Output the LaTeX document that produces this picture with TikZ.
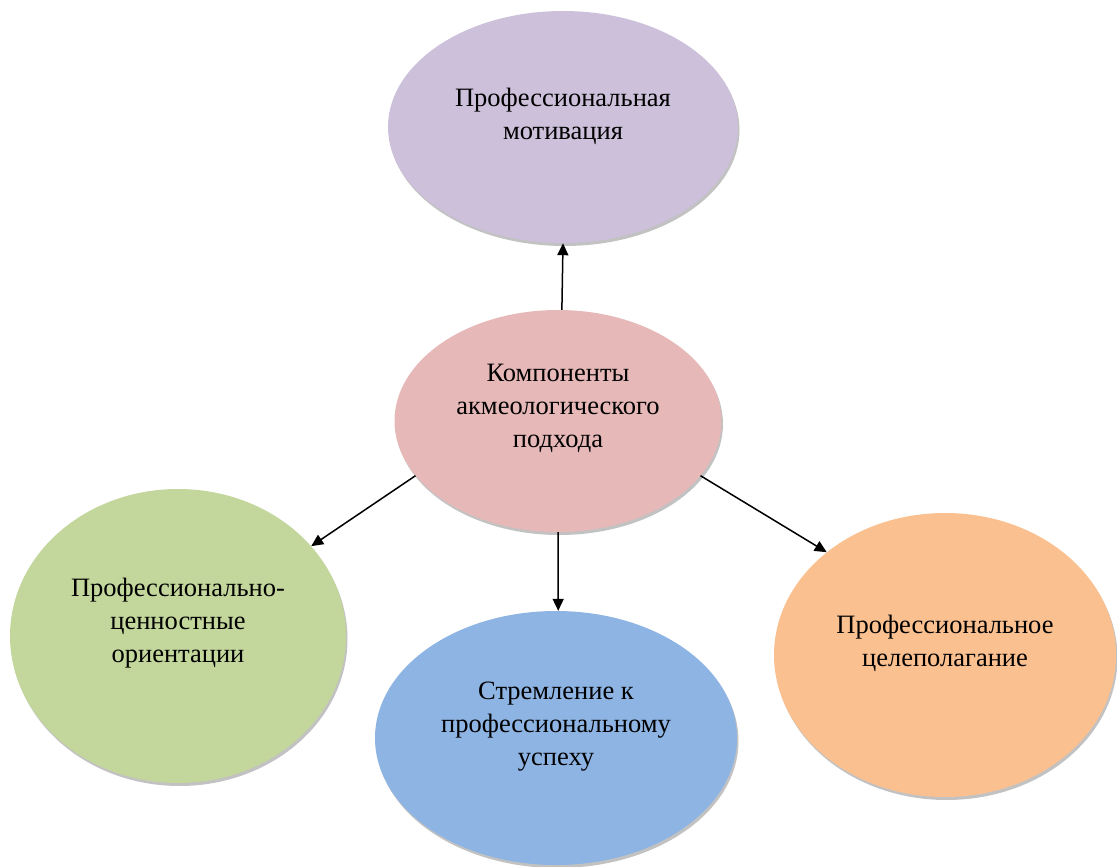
\documentclass[tikz,border=0pt]{standalone}
\usepackage{fontspec}
\setmainfont{Liberation Serif}
\usetikzlibrary{shapes.geometric,arrows.meta,shadows}
\definecolor{cpurple}{HTML}{CCC0DA}
\definecolor{cpink}{HTML}{E6B9B8}
\definecolor{cgreen}{HTML}{C3D69B}
\definecolor{cblue}{HTML}{8EB4E3}
\definecolor{corange}{HTML}{FAC090}
\tikzset{
  oval/.style={ellipse, inner sep=0pt, draw=none,
    drop shadow={shadow xshift=1.5pt, shadow yshift=-3pt, opacity=0.4, fill=black!60}},
  lbl/.style={align=center, text=black, font=\fontsize{26.5}{33}\selectfont},
  conn/.style={line width=1.5pt, -{Triangle[length=12pt,width=11pt]}}
}
\begin{document}
\begin{tikzpicture}[x=1pt,y=-1pt]
\useasboundingbox (0,0) rectangle (1117,867);
% ellipses
\node[oval, fill=cpurple, minimum width=350pt, minimum height=232pt] (top) at (563,127) {};
\node[oval, fill=cpink, minimum width=327pt, minimum height=222pt] (cen) at (558,421) {};
\node[oval, fill=cgreen, minimum width=336pt, minimum height=294pt] (lft) at (178,636) {};
\node[oval, fill=cblue, minimum width=362pt, minimum height=254pt] (bot) at (556,738) {};
\node[oval, fill=corange, minimum width=342pt, minimum height=284pt] (rgt) at (945,655) {};
% texts
\node[lbl] (topt) at (563,116) {Профессиональная\\мотивация};
\node[lbl] (cent) at (558,408) {Компоненты\\акмеологического\\подхода};
\node[lbl] (lftt) at (178,623) {Профессионально-\\ценностные\\ориентации};
\node[lbl] (bott) at (556,727) {Стремление к\\профессиональному\\успеху};
\node[lbl] (rgtt) at (945,643) {Профессиональное\\целеполагание};
% connectors
\draw[conn] (cen.88) -- (top.270);
\draw[conn] (cen.201) -- (lft.34);
\draw[conn] (cen.270) -- (bot.89);
\draw[conn] (cen.339) -- (rgt.139);
\end{tikzpicture}
\end{document}
